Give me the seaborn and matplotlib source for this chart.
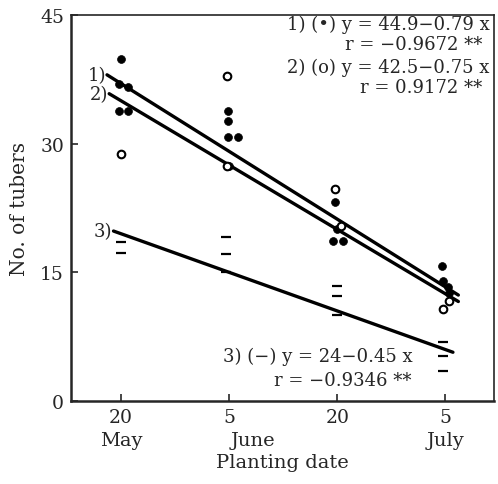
import numpy as np
import matplotlib
matplotlib.use("Agg")
import matplotlib.pyplot as plt
import seaborn as sns

# planting dates (x = 10, 20, 30, 40 as in the regression equations)
date_x = [10, 20, 30, 40]
day_labels = ["20", "5", "20", "5"]
month_labels = ["May", "June", "July"]
month_x = [10, 22.2, 40]

# 1) filled dots
dot_x = [10, 9.8, 10.6, 9.8, 10.6, 19.9, 19.9, 19.9, 20.8, 20.0,
         29.8, 30.0, 29.6, 30.5, 39.7, 39.8, 40.2, 40.3]
dot_y = [39.9, 37.0, 36.6, 33.8, 33.8, 33.8, 32.6, 30.8, 30.8, 27.4,
         23.2, 20.0, 18.6, 18.6, 15.7, 14.0, 13.3, 12.6]

# 2) open circles
circ_x = [10, 19.8, 19.8, 29.8, 30.3, 40.3, 39.8]
circ_y = [28.8, 37.9, 27.4, 24.7, 20.4, 11.7, 10.7]

# 3) dashes
dash_x = [10, 10, 19.7, 19.7, 19.7, 30, 30, 30, 39.8, 39.8, 39.8]
dash_y = [18.5, 17.2, 19.1, 17.1, 15.0, 13.4, 12.2, 10.0, 6.9, 5.2, 3.5]

# regression lines y = a - b x
line_a = [44.9, 42.5, 24.0]
line_b = [0.79, 0.75, 0.45]
line_from = [8.7, 8.9, 9.3]
line_to = [41.2, 41.2, 40.7]
line_tags = ["1)", "2)", "3)"]

sns.set_style("ticks")
plt.rcParams['font.family'] = ['DejaVu Serif']

fig = plt.figure(figsize=(4.98, 4.85), dpi=100)
ax = fig.add_axes([0.1426, 0.1711, 0.8494, 0.7959])

for a, b, x0, x1, tag in zip(line_a, line_b, line_from, line_to, line_tags):
    xs = np.array([x0, x1])
    sns.lineplot(x=xs, y=a - b * xs, ax=ax, color="black", linewidth=2.4)
    ax.text(x0 - 0.1, a - b * x0, tag, ha="right", va="center", fontsize=13)

sns.scatterplot(x=dot_x, y=dot_y, ax=ax, color="black", s=32, edgecolor="black", linewidth=0.5, zorder=3)
sns.scatterplot(x=circ_x, y=circ_y, ax=ax, marker="o", s=30, facecolor="white",
                edgecolor="black", linewidth=1.5, zorder=4)
sns.scatterplot(x=dash_x, y=dash_y, ax=ax, marker="_", s=50, color="black", linewidth=1.6, zorder=3)

ax.set_xlim(5.37, 44.5)
ax.set_ylim(0, 45)
ax.set_xticks(date_x)
ax.set_xticklabels(day_labels)
ax.set_yticks([0, 15, 30, 45])
ax.tick_params(direction="in", length=5, width=1.2, labelsize=13.5)
ax.tick_params(axis="x", pad=5)
ax.tick_params(axis="y", pad=5)
for s in ["left", "bottom"]:
    ax.spines[s].set_linewidth(1.8)
for s in ["top", "right"]:
    ax.spines[s].set_linewidth(1.2)

for mx, m in zip(month_x, month_labels):
    ax.text(mx, -0.102, m, transform=ax.get_xaxis_transform(), ha="center", va="center", fontsize=14)

ax.set_xlabel("Planting date", fontsize=14)
ax.set_ylabel("No. of tubers", fontsize=14.5)
ax.xaxis.set_label_coords(0.5, -0.135)
ax.yaxis.set_label_coords(-0.1, 0.5)

ax.text(0.99, 0.977, "1) (•) y = 44.9−0.79 x", transform=ax.transAxes, ha="right", va="center", fontsize=13)
ax.text(0.972, 0.925, "r = −0.9672 **", transform=ax.transAxes, ha="right", va="center", fontsize=13)
ax.text(0.99, 0.865, "2) (o) y = 42.5−0.75 x", transform=ax.transAxes, ha="right", va="center", fontsize=13)
ax.text(0.972, 0.813, "r = 0.9172 **", transform=ax.transAxes, ha="right", va="center", fontsize=13)
ax.text(0.808, 0.117, "3) (−) y = 24−0.45 x", transform=ax.transAxes, ha="right", va="center", fontsize=13)
ax.text(0.806, 0.054, "r = −0.9346 **", transform=ax.transAxes, ha="right", va="center", fontsize=13)

fig.savefig("out.png", dpi=100)
